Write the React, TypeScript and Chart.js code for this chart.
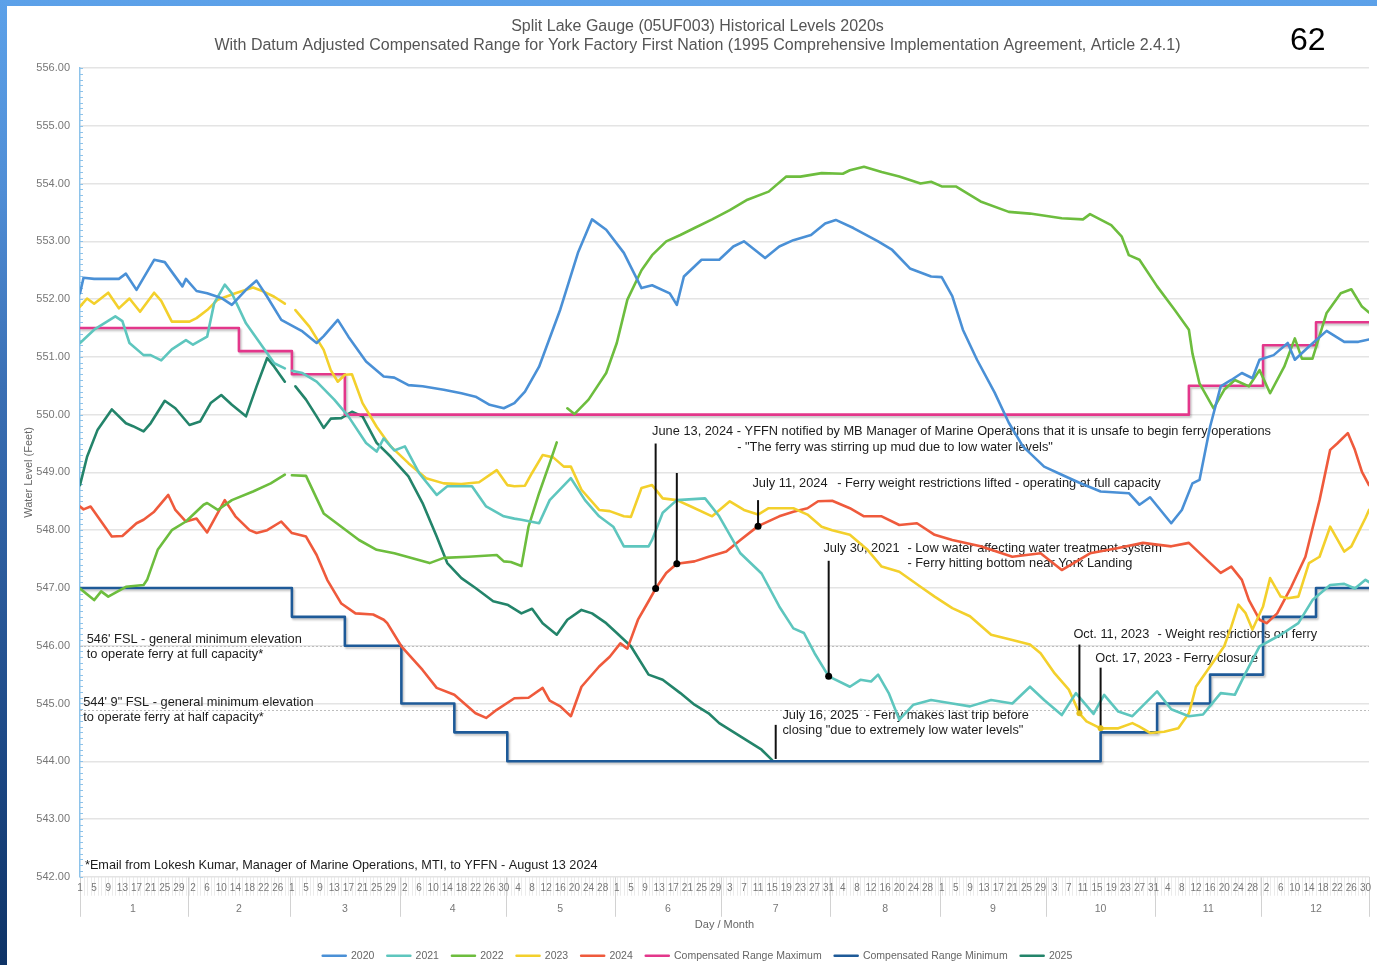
import React, { useEffect, useRef } from 'react';
import { Chart, registerables } from 'chart.js';

Chart.register(...registerables);

const FONT = "'Liberation Sans', Arial, Helvetica, sans-serif";
Chart.defaults.font.family = FONT;

// ---------- axis / label data ----------
const MONTH_LENGTHS = [31, 29, 31, 30, 31, 30, 31, 31, 30, 31, 30, 31];
const MONTH_NAMES = ['1', '2', '3', '4', '5', '6', '7', '8', '9', '10', '11', '12'];
const Y_TICKS = [542, 543, 544, 545, 546, 547, 548, 549, 550, 551, 552, 553, 554, 555, 556];
const DAY_LABEL_STEP = 4;

const TITLE_LINES = [
  'Split Lake Gauge (05UF003) Historical Levels 2020s',
  'With Datum Adjusted Compensated Range for York Factory First Nation (1995 Comprehensive Implementation Agreement, Article 2.4.1)',
];

type P = [number, number | null];

// ---------- series (day of year, water level ft) ----------
const Y2020: P[] = [
  [1, 552.1], [2, 552.37], [5, 552.35], [12, 552.35], [14, 552.44], [17, 552.16], [22, 552.68], [25, 552.64],
  [30, 552.22], [31, 552.35], [34, 552.14], [37, 552.1], [41, 552.02], [44, 551.9], [48, 552.16], [51, 552.32],
  [54, 552.04], [58, 551.64], [64, 551.44], [68, 551.24], [70, 551.36], [74, 551.64], [77, 551.35], [82, 550.92],
  [87, 550.66], [90, 550.64], [94, 550.51], [98, 550.49], [104, 550.43], [109, 550.37], [113, 550.31], [117, 550.17],
  [121, 550.11], [124, 550.2], [127, 550.4], [131, 550.83], [137, 551.82], [142, 552.8], [146, 553.38], [150, 553.2],
  [155, 552.8], [160, 552.19], [163, 552.24], [168, 552.1], [170, 551.9], [172, 552.39], [177, 552.68], [182, 552.68],
  [186, 552.91], [189, 553.0], [195, 552.71], [199, 552.91], [203, 553.02], [208, 553.11], [212, 553.31], [215, 553.37],
  [220, 553.23], [227, 553.0], [231, 552.85], [236, 552.53], [242, 552.39], [245, 552.38], [248, 552.05], [251, 551.47],
  [255, 550.95], [260, 550.38], [264, 549.86], [268, 549.45], [274, 549.1], [279, 548.96], [284, 548.82], [290, 548.67],
  [298, 548.64], [301, 548.44], [304, 548.57], [310, 548.12], [313, 548.35], [316, 548.81], [318, 548.87], [321, 549.79],
  [324, 550.49], [327, 550.6], [330, 550.72], [333, 550.63], [335, 550.95], [339, 551.03], [343, 551.24], [345, 550.95],
  [349, 551.18], [354, 551.45], [359, 551.26], [363, 551.26], [366, 551.3],
];

const Y2021: P[] = [
  [1, 551.24], [5, 551.47], [11, 551.7], [13, 551.62], [15, 551.24], [19, 551.03], [21, 551.03], [24, 550.94],
  [27, 551.13], [31, 551.29], [33, 551.21], [37, 551.35], [39, 551.93], [42, 552.25], [44, 552.1], [48, 551.58],
  [53, 551.15], [56, 550.89], [59, 550.8], [60, null], [61, 550.76], [64, 550.72], [68, 550.57], [73, 550.26],
  [77, 549.97], [82, 549.51], [85, 549.36], [87, 549.59], [90, 549.38], [93, 549.45], [97, 548.99], [102, 548.61],
  [105, 548.76], [112, 548.76], [116, 548.41], [121, 548.24], [124, 548.2], [126, 548.18], [131, 548.12], [134, 548.52],
  [140, 548.9], [144, 548.52], [148, 548.24], [152, 548.06], [155, 547.72], [162, 547.72], [163, 547.83], [166, 548.3],
  [170, 548.52], [178, 548.55], [182, 548.24], [188, 547.6], [194, 547.25], [199, 546.68], [203, 546.3], [206, 546.22],
  [209, 545.87], [213, 545.47], [219, 545.29], [222, 545.41], [225, 545.38], [227, 545.5], [230, 545.18], [233, 544.72],
  [237, 544.98], [242, 545.06], [248, 545.0], [253, 544.95], [259, 545.06], [265, 545.0], [270, 545.29], [274, 545.06],
  [279, 544.8], [283, 545.18], [288, 544.82], [291, 545.15], [295, 544.86], [299, 544.78], [306, 545.21], [310, 544.9],
  [315, 544.78], [319, 544.81], [324, 545.18], [328, 545.15], [331, 545.52], [335, 545.99], [341, 546.19], [346, 546.39],
  [350, 546.79], [355, 547.05], [359, 547.07], [362, 546.99], [365, 547.14], [366, 547.1],
];

const Y2022: P[] = [
  [1, 546.99], [5, 546.79], [7, 546.94], [9, 546.85], [14, 547.02], [19, 547.05], [20, 547.14], [23, 547.66],
  [27, 548.0], [31, 548.15], [36, 548.44], [37, 548.47], [40, 548.35], [44, 548.52], [50, 548.67], [55, 548.81],
  [59, 548.96], [60, null], [61, 548.95], [65, 548.94], [70, 548.29], [75, 548.06], [80, 547.83], [85, 547.66],
  [90, 547.6], [100, 547.43], [104, 547.52], [111, 547.54], [119, 547.57], [121, 547.46], [123, 547.45], [126, 547.38],
  [128, 548.06], [131, 548.64], [134, 549.16], [136, 549.52], [137, null], [139, 550.11], [141, 550.01], [145, 550.26],
  [150, 550.72], [153, 551.24], [156, 551.99], [160, 552.5], [163, 552.76], [167, 553.0], [171, 553.11], [175, 553.23],
  [180, 553.38], [185, 553.54], [190, 553.72], [196, 553.86], [201, 554.12], [205, 554.12], [211, 554.18], [217, 554.17],
  [219, 554.23], [223, 554.29], [228, 554.2], [233, 554.12], [239, 554.0], [242, 554.03], [245, 553.95], [249, 553.95],
  [256, 553.69], [264, 553.51], [270, 553.48], [279, 553.4], [285, 553.38], [287, 553.47], [293, 553.28], [296, 553.08],
  [298, 552.76], [301, 552.68], [306, 552.22], [311, 551.81], [315, 551.47], [316, 551.06], [318, 550.54], [322, 550.11],
  [325, 550.43], [328, 550.6], [332, 550.49], [335, 550.77], [338, 550.37], [342, 550.83], [345, 551.32], [347, 550.97],
  [350, 550.97], [354, 551.76], [358, 552.1], [361, 552.17], [364, 551.87], [366, 551.77],
];

const Y2023: P[] = [
  [1, 551.87], [3, 552.01], [5, 551.92], [9, 552.11], [12, 551.84], [15, 552.01], [18, 551.78], [22, 552.11],
  [24, 551.97], [27, 551.61], [32, 551.61], [34, 551.67], [37, 551.81], [40, 551.99], [45, 552.1], [50, 552.2],
  [53, 552.13], [56, 552.04], [59, 551.92], [60, null], [62, 551.81], [66, 551.52], [70, 551.12], [72, 550.77],
  [74, 550.57], [76, 550.69], [78, 550.7], [81, 550.2], [85, 549.79], [89, 549.45], [94, 549.16], [99, 548.9],
  [104, 548.81], [109, 548.8], [114, 548.83], [119, 549.04], [122, 548.78], [124, 548.76], [127, 548.77], [129, 548.99],
  [132, 549.3], [135, 549.26], [138, 549.1], [140, 549.1], [143, 548.7], [148, 548.35], [151, 548.33], [155, 548.24],
  [157, 548.23], [160, 548.73], [163, 548.78], [166, 548.55], [170, 548.52], [174, 548.41], [180, 548.24], [185, 548.5],
  [189, 548.35], [193, 548.27], [196, 548.38], [203, 548.38], [207, 548.27], [211, 548.06], [214, 548.0], [219, 547.92],
  [224, 547.66], [228, 547.37], [233, 547.28], [239, 547.02], [243, 546.85], [248, 546.65], [253, 546.51], [259, 546.19],
  [265, 546.1], [270, 546.02], [273, 545.87], [277, 545.52], [281, 545.24], [284, 544.83], [286, 544.69], [290, 544.57],
  [295, 544.57], [299, 544.66], [301, 544.6], [304, 544.49], [308, 544.51], [312, 544.57], [315, 544.83], [317, 545.29],
  [321, 545.64], [325, 545.99], [327, 546.33], [329, 546.71], [331, 546.57], [333, 546.28], [336, 546.68], [338, 547.17],
  [341, 546.85], [343, 546.82], [346, 546.85], [349, 547.43], [352, 547.54], [355, 548.06], [359, 547.63], [361, 547.72],
  [365, 548.21], [366, 548.35],
];

const Y2024: P[] = [
  [1, 548.41], [2, 548.36], [4, 548.41], [10, 547.89], [13, 547.9], [17, 548.12], [19, 548.18], [22, 548.32],
  [26, 548.61], [28, 548.35], [31, 548.15], [34, 548.2], [37, 547.96], [42, 548.52], [45, 548.24], [49, 548.0],
  [51, 547.95], [54, 548.0], [58, 548.15], [61, 547.95], [65, 547.89], [68, 547.57], [71, 547.14], [75, 546.73],
  [79, 546.56], [84, 546.54], [87, 546.45], [88, 546.39], [92, 545.99], [98, 545.58], [102, 545.27], [107, 545.15],
  [113, 544.83], [116, 544.75], [119, 544.89], [124, 545.09], [128, 545.1], [132, 545.27], [134, 545.05], [137, 544.95],
  [140, 544.78], [143, 545.29], [148, 545.64], [151, 545.81], [154, 546.04], [156, 545.95], [159, 546.45], [162, 546.77],
  [164, 546.99], [167, 547.26], [170, 547.42], [175, 547.46], [179, 547.54], [184, 547.63], [188, 547.83], [193, 548.07],
  [199, 548.24], [203, 548.32], [207, 548.38], [210, 548.5], [214, 548.51], [219, 548.38], [223, 548.24], [228, 548.24],
  [233, 548.09], [238, 548.12], [243, 547.92], [248, 547.83], [256, 547.72], [265, 547.54], [273, 547.6], [279, 547.31],
  [287, 547.6], [295, 547.69], [302, 547.78], [310, 547.72], [315, 547.78], [320, 547.49], [324, 547.26], [327, 547.37],
  [330, 547.14], [332, 546.79], [335, 546.45], [337, 546.39], [340, 546.56], [344, 547.02], [348, 547.54], [352, 548.52],
  [355, 549.39], [357, 549.5], [360, 549.68], [362, 549.39], [364, 549.01], [366, 548.78],
];

const COMP_MAX: P[] = [
  [1, 551.5], [46, 551.1], [61, 550.7], [76, 550.0], [315, 550.5], [336, 551.2], [351, 551.6], [366, 551.6],
];

const COMP_MIN: P[] = [
  [1, 547.0], [61, 546.5], [76, 546.0], [92, 545.0], [107, 544.5], [122, 544.0], [290, 544.5], [306, 545.0],
  [321, 545.5], [336, 546.5], [351, 547.0], [366, 547.0],
];

const Y2025: P[] = [
  [1, 548.78], [3, 549.27], [6, 549.74], [10, 550.09], [14, 549.85], [16, 549.8], [19, 549.71], [21, 549.85],
  [25, 550.24], [28, 550.11], [32, 549.82], [35, 549.88], [38, 550.2], [41, 550.34], [44, 550.17], [48, 549.97],
  [51, 550.49], [54, 550.98], [56, 550.83], [59, 550.57], [60, null], [62, 550.49], [65, 550.26], [68, 549.97],
  [70, 549.77], [72, 549.93], [75, 549.94], [78, 550.05], [81, 549.97], [85, 549.51], [89, 549.27], [94, 548.93],
  [98, 548.47], [102, 547.89], [105, 547.43], [109, 547.17], [113, 547.0], [118, 546.77], [122, 546.71], [126, 546.56],
  [129, 546.64], [132, 546.39], [136, 546.19], [139, 546.45], [143, 546.62], [146, 546.56], [150, 546.39], [153, 546.22],
  [157, 545.99], [162, 545.5], [166, 545.41], [171, 545.18], [175, 544.98], [179, 544.83], [182, 544.66], [188, 544.43],
  [194, 544.2], [197, 544.02],
];

// ---------- reference levels & annotations ----------
const FSL_LEVELS = [546.0, 544.88];

const ANNOTATION_LINES = [
  { day: 164, top: 549.5, bottom: 546.99, dot: '#000' },
  { day: 170, top: 548.99, bottom: 547.42, dot: '#000' },
  { day: 193, top: 548.52, bottom: 548.07, dot: '#000' },
  { day: 213, top: 547.47, bottom: 545.47, dot: '#000' },
  { day: 198, top: 544.63, bottom: 544.04, dot: '' },
  { day: 284, top: 546.02, bottom: 544.83, dot: '#e3bf1c' },
  { day: 290, top: 545.62, bottom: 544.57, dot: '#e3bf1c' },
];

const ANNOTATION_TEXTS = [
  { day: 163.0, value: 549.7, text: 'June 13, 2024 - YFFN notified by MB Manager of Marine Operations that it is unsafe to begin ferry operations' },
  { day: 187.1, value: 549.44, text: '- "The ferry was stirring up mud due to low water levels"' },
  { day: 191.4, value: 548.8, text: 'July 11, 2024' },
  { day: 215.4, value: 548.8, text: '- Ferry weight restrictions lifted - operating at full capacity' },
  { day: 211.5, value: 547.68, text: 'July 30, 2021' },
  { day: 235.3, value: 547.68, text: '- Low water affecting water treatment system' },
  { day: 235.3, value: 547.42, text: '- Ferry hitting bottom near York Landing' },
  { day: 199.9, value: 544.8, text: 'July 16, 2025' },
  { day: 223.4, value: 544.8, text: '- Ferry makes last trip before' },
  { day: 199.9, value: 544.54, text: 'closing "due to extremely low water levels"' },
  { day: 282.3, value: 546.19, text: 'Oct. 11, 2023' },
  { day: 306.1, value: 546.19, text: '- Weight restrictions on ferry' },
  { day: 288.5, value: 545.78, text: 'Oct. 17, 2023 - Ferry closure' },
  { day: 2.9, value: 546.1, text: "546' FSL - general minimum elevation" },
  { day: 2.9, value: 545.84, text: 'to operate ferry at full capacity*' },
  { day: 1.9, value: 545.02, text: '544\' 9" FSL - general minimum elevation' },
  { day: 1.9, value: 544.75, text: 'to operate ferry at half capacity*' },
];

const FOOTNOTE = { day: 2.4, value: 542.19, text: '*Email from Lokesh Kumar, Manager of Marine Operations, MTI, to YFFN - August 13 2024' };

// ---------- derived label helpers ----------
const DAY_OF_MONTH: string[] = [];
MONTH_LENGTHS.forEach((len) => {
  for (let d = 1; d <= len; d++) DAY_OF_MONTH.push(String(d));
});
const TOTAL_DAYS = DAY_OF_MONTH.length;
const MONTH_STARTS: number[] = [];
{
  let acc = 1;
  MONTH_LENGTHS.forEach((l) => {
    MONTH_STARTS.push(acc);
    acc += l;
  });
}
const DAY_TICKS: number[] = [];
for (let d = 1; d <= TOTAL_DAYS; d += DAY_LABEL_STEP) DAY_TICKS.push(d);

const SERIES = [
  { label: '2020', data: Y2020, color: '#4a90d6', stepped: false },
  { label: '2021', data: Y2021, color: '#5ec6be', stepped: false },
  { label: '2022', data: Y2022, color: '#6dbd3e', stepped: false },
  { label: '2023', data: Y2023, color: '#f3d02c', stepped: false },
  { label: '2024', data: Y2024, color: '#ef5a3c', stepped: false },
  { label: 'Compensated Range Maximum', data: COMP_MAX, color: '#e3378b', stepped: true },
  { label: 'Compensated Range Minimum', data: COMP_MIN, color: '#1e5a98', stepped: true },
  { label: '2025', data: Y2025, color: '#23846a', stepped: false },
];

const decorPlugin = {
  id: 'decor',
  beforeDraw(chart: any) {
    const { ctx, chartArea } = chart;
    const x = chart.scales.x;
    ctx.save();
    ctx.lineWidth = 1;
    ctx.strokeStyle = 'rgba(0,0,0,0.08)';
    for (let d = 1; d <= TOTAL_DAYS; d++) {
      const px = Math.round(x.getPixelForValue(d)) + 0.5;
      ctx.beginPath();
      ctx.moveTo(px, chartArea.bottom);
      ctx.lineTo(px, chartArea.bottom + 19);
      ctx.stroke();
    }
    ctx.strokeStyle = '#d2d2d2';
    const seps = MONTH_STARTS.map((s) => x.getPixelForValue(Math.max(1, s - 0.5)));
    seps.push(chartArea.right);
    seps.forEach((p: number) => {
      const px = Math.round(p) + 0.5;
      ctx.beginPath();
      ctx.moveTo(px, chartArea.bottom);
      ctx.lineTo(px, chartArea.bottom + 40);
      ctx.stroke();
    });
    ctx.restore();
  },
  beforeDatasetsDraw(chart: any) {
    const { ctx, chartArea } = chart;
    const x = chart.scales.x;
    const y = chart.scales.y;
    ctx.save();
    ctx.strokeStyle = '#8ec3ea';
    ctx.lineWidth = 1;
    for (let i = 0; i <= (556 - 542) * 10; i++) {
      const py = Math.round(y.getPixelForValue(542 + i / 10)) + 0.5;
      ctx.beginPath();
      ctx.moveTo(chartArea.left, py);
      ctx.lineTo(chartArea.left + 3, py);
      ctx.stroke();
    }
    ctx.strokeStyle = '#bdbdbd';
    ctx.setLineDash([2, 2]);
    FSL_LEVELS.forEach((v) => {
      const py = Math.round(y.getPixelForValue(v)) + 0.5;
      ctx.beginPath();
      ctx.moveTo(chartArea.left, py);
      ctx.lineTo(chartArea.right, py);
      ctx.stroke();
    });
    ctx.setLineDash([]);
    ctx.fillStyle = '#1c1c1c';
    ctx.textAlign = 'left';
    ctx.textBaseline = 'middle';
    ctx.font = `12.8px ${FONT}`;
    ANNOTATION_TEXTS.forEach((t) => {
      ctx.fillText(t.text, x.getPixelForValue(t.day), y.getPixelForValue(t.value));
    });
    ctx.font = `12.7px ${FONT}`;
    ctx.fillText(FOOTNOTE.text, x.getPixelForValue(FOOTNOTE.day), y.getPixelForValue(FOOTNOTE.value));
    ctx.restore();
  },
  beforeDatasetDraw(chart: any, args: any) {
    if (args.index === 5 || args.index === 6) {
      const ctx = chart.ctx;
      ctx.save();
      ctx.shadowColor = 'rgba(0,0,0,0.22)';
      ctx.shadowOffsetX = 1.5;
      ctx.shadowOffsetY = 2;
      ctx.shadowBlur = 2;
    }
  },
  afterDatasetDraw(chart: any, args: any) {
    if (args.index === 5 || args.index === 6) chart.ctx.restore();
  },
  afterDatasetsDraw(chart: any) {
    const { ctx } = chart;
    const x = chart.scales.x;
    const y = chart.scales.y;
    ctx.save();
    ctx.strokeStyle = '#111';
    ctx.lineWidth = 2;
    ANNOTATION_LINES.forEach((a) => {
      const px = x.getPixelForValue(a.day);
      ctx.beginPath();
      ctx.moveTo(px, y.getPixelForValue(a.top));
      ctx.lineTo(px, y.getPixelForValue(a.bottom));
      ctx.stroke();
      if (a.dot) {
        ctx.fillStyle = a.dot;
        ctx.beginPath();
        ctx.arc(px, y.getPixelForValue(a.bottom), a.dot === '#000' ? 3.5 : 3, 0, Math.PI * 2);
        ctx.fill();
      }
    });
    ctx.restore();
  },
};

export default function App() {
  const ref = useRef<HTMLCanvasElement>(null);

  useEffect(() => {
    document.body.style.margin = '0';
    const canvas = ref.current;
    if (!canvas) return;
    const chart = new Chart(canvas, {
      type: 'line',
      data: {
        datasets: SERIES.map((s) => ({
          label: s.label,
          data: s.data.map(([dx, v]) => ({ x: dx, y: v })),
          borderColor: s.color,
          backgroundColor: s.color,
          borderWidth: 2.6,
          pointRadius: 0,
          pointHoverRadius: 0,
          stepped: s.stepped,
          tension: 0,
          spanGaps: false,
          borderJoinStyle: 'round',
          borderCapStyle: 'round',
          fill: false,
        })),
      },
      options: {
        responsive: false,
        animation: false,
        devicePixelRatio: 1,
        events: [],
        layout: { padding: { left: 11, right: 0, top: 0, bottom: 0 } },
        plugins: {
          title: {
            display: true,
            text: TITLE_LINES,
            color: '#555',
            font: { size: 16, weight: 'normal', lineHeight: 19 / 16 },
            padding: { top: 11.5, bottom: 12.5 },
          },
          legend: {
            position: 'bottom',
            labels: {
              boxWidth: 23,
              boxHeight: 0,
              padding: 13,
              color: '#666',
              font: { size: 10.5 },
            },
          },
          tooltip: { enabled: false },
        },
        scales: {
          x: {
            type: 'linear',
            min: 1,
            max: TOTAL_DAYS,
            position: 'bottom',
            weight: 0,
            grid: { display: false, drawTicks: false },
            border: { display: false },
            afterBuildTicks: (s: any) => {
              s.ticks = DAY_TICKS.map((v) => ({ value: v }));
            },
            ticks: {
              autoSkip: false,
              maxRotation: 0,
              minRotation: 0,
              padding: 5,
              color: '#777',
              font: { size: 10 },
              callback: (v: any) => DAY_OF_MONTH[Math.round(Number(v)) - 1] ?? '',
            },
          },
          x2: {
            type: 'linear',
            min: 1,
            max: TOTAL_DAYS,
            position: 'bottom',
            weight: 1,
            grid: { display: false, drawTicks: false },
            border: { display: false },
            afterBuildTicks: (s: any) => {
              s.ticks = MONTH_STARTS.map((st, i) => ({ value: st + (MONTH_LENGTHS[i] - 1) / 2 }));
            },
            ticks: {
              autoSkip: false,
              maxRotation: 0,
              minRotation: 0,
              padding: 3.7,
              color: '#777',
              font: { size: 10.5 },
              callback: (_v: any, i: number) => MONTH_NAMES[i],
            },
            title: {
              display: true,
              text: 'Day / Month',
              color: '#666',
              font: { size: 11 },
              padding: { top: 0, bottom: 5.5 },
            },
          },
          y: {
            type: 'linear',
            min: Y_TICKS[0],
            max: Y_TICKS[Y_TICKS.length - 1],
            position: 'left',
            afterBuildTicks: (s: any) => {
              s.ticks = Y_TICKS.map((v) => ({ value: v }));
            },
            afterFit: (s: any) => {
              s.width = 62;
            },
            grid: { color: '#e4e4e4', lineWidth: 1.5, drawTicks: false },
            border: { display: true, color: '#8ec3ea', width: 1.5 },
            ticks: {
              padding: 10,
              color: '#777',
              font: { size: 11 },
              callback: (v: any) => Number(v).toFixed(2),
            },
            title: {
              display: true,
              text: 'Water Level (Feet)',
              color: '#666',
              font: { size: 11 },
            },
          },
          yR: {
            type: 'linear',
            position: 'right',
            min: Y_TICKS[0],
            max: Y_TICKS[Y_TICKS.length - 1],
            grid: { display: false, drawTicks: false },
            border: { display: false },
            ticks: { display: false },
            afterFit: (s: any) => {
              s.width = 8;
            },
          },
        },
      } as any,
      plugins: [decorPlugin as any],
    });
    return () => chart.destroy();
  }, []);

  return (
    <div
      style={{
        position: 'fixed',
        left: 0,
        top: 0,
        width: 1377,
        height: 965,
        overflow: 'hidden',
        background: 'linear-gradient(180deg, #5ca1e9 0%, #4f8dd5 20%, #3a6fb4 40%, #1b4682 80%, #0e3366 100%)',
      }}
    >
      <div
        style={{
          position: 'absolute',
          left: 7,
          top: 6,
          width: 1370,
          height: 959,
          background: '#fff',
          overflow: 'hidden',
        }}
      >
        <canvas ref={ref} width={1370} height={965} style={{ display: 'block', width: 1370, height: 965 }} />
        <div
          style={{
            position: 'absolute',
            left: 1283,
            top: 17,
            fontSize: 32,
            lineHeight: 1,
            fontFamily: FONT,
            color: '#000',
          }}
        >
          62
        </div>
      </div>
    </div>
  );
}
